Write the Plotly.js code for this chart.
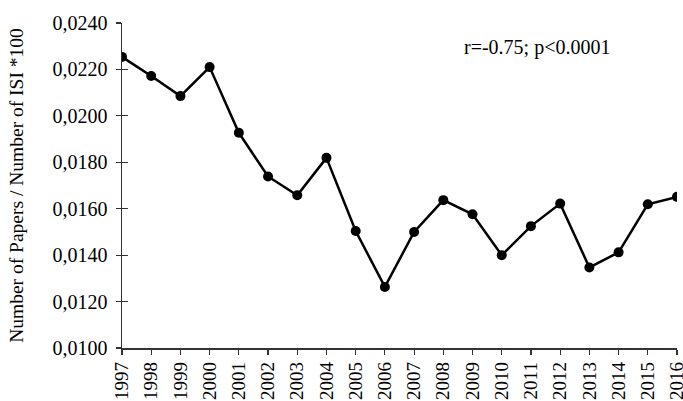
<!DOCTYPE html>
<html>
<head>
<meta charset="utf-8">
<script src="https://cdn.plot.ly/plotly-3.0.1.min.js"></script>
<style>html,body{margin:0;padding:0;background:#fff;}#chart{width:683px;height:401px;}</style>
</head>
<body>
<div id="chart"></div>
<script>
const years = ["1997","1998","1999","2000","2001","2002","2003","2004","2005","2006","2007","2008","2009","2010","2011","2012","2013","2014","2015","2016"];
const ratio = [0.02254,0.02172,0.02085,0.02210,0.01927,0.01739,0.01658,0.01819,0.01504,0.01263,0.01500,0.01637,0.01576,0.01400,0.01525,0.01622,0.01347,0.01412,0.01619,0.01651];
const yTicks = [0.0100,0.0120,0.0140,0.0160,0.0180,0.0200,0.0220,0.0240];
const annotationText = "r=-0.75; p<0.0001";
const yTitle = "Number of Papers / Number of ISI *100";

const font = "Liberation Serif, Times New Roman, serif";
const trace = {
  x: years, y: ratio, type: "scatter", mode: "lines+markers",
  line: {color: "#000", width: 2.5},
  marker: {color: "#000", size: 10},
  showlegend: false, hoverinfo: "skip"
};
const dummy = {x: years, y: ratio, yaxis: "y2", type: "scatter", mode: "none", showlegend: false, hoverinfo: "skip"};
const layout = {
  width: 683, height: 401,
  margin: {l: 122, r: 6, t: 23, b: 53},
  paper_bgcolor: "#fff", plot_bgcolor: "#fff",
  separators: ", ",
  font: {family: font, color: "#000", size: 20},
  xaxis: {
    type: "category", range: [0, 19], tickangle: -90,
    showline: true, linecolor: "#333", linewidth: 1.5,
    ticks: "outside", ticklen: 5, tickcolor: "#333", tickwidth: 1.2,
    showgrid: false, zeroline: false,
    tickfont: {family: font, size: 19, color: "#000"}
  },
  yaxis: {
    range: [0.0100, 0.0240], tickvals: yTicks, tickformat: ".4f",
    showline: true, linecolor: "#333", linewidth: 1.5,
    ticks: "outside", ticklen: 5, tickcolor: "#333", tickwidth: 1.2,
    ticklabelstandoff: 4,
    showgrid: false, zeroline: false,
    tickfont: {family: font, size: 20, color: "#000"},
    title: {text: yTitle, font: {family: font, size: 19.5, color: "#000"}, standoff: 23}
  },
  yaxis2: {
    overlaying: "y", side: "left", range: [0.0100, 0.0240], tickvals: yTicks,
    showticklabels: false, ticks: "inside", ticklen: 6, tickcolor: "#333", tickwidth: 1.2,
    showline: false, showgrid: false, zeroline: false
  },
  annotations: [{
    xref: "paper", yref: "paper", x: 0.748, y: 0.926, xanchor: "center", yanchor: "middle",
    text: annotationText, showarrow: false, font: {family: font, size: 20, color: "#000"}
  }]
};
Plotly.newPlot("chart", [dummy, trace], layout, {staticPlot: true, displayModeBar: false});
</script>
</body>
</html>
